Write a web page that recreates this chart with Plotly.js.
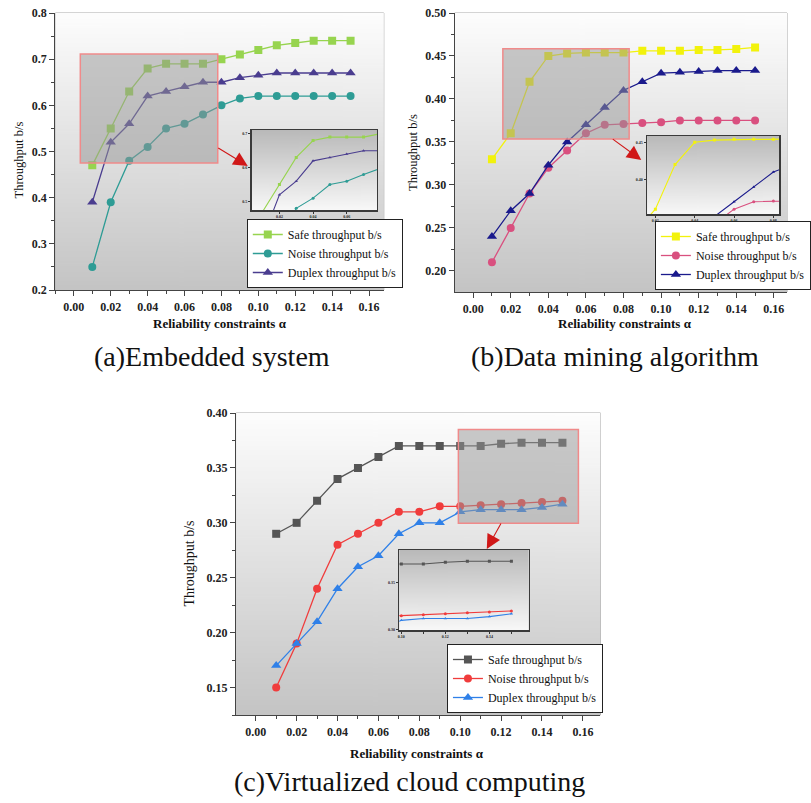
<!DOCTYPE html>
<html><head><meta charset="utf-8">
<script src="https://cdn.plot.ly/plotly-3.0.1.min.js"></script>
<style>html,body{margin:0;padding:0;background:#fff;}#chart{width:811px;height:803px;}</style>
</head><body><div id="chart"></div>
<script>
// ---------------- data ----------------
const alpha = [0.01,0.02,0.03,0.04,0.05,0.06,0.07,0.08,0.09,0.10,0.11,0.12,0.13,0.14,0.15];
const seriesNames = ['Safe throughput b/s','Noise throughput b/s','Duplex throughput b/s'];

// (a) Embedded system
const safeA   = [0.47,0.55,0.63,0.68,0.69,0.69,0.69,0.70,0.71,0.72,0.73,0.735,0.74,0.74,0.74];
const noiseA  = [0.25,0.39,0.48,0.51,0.55,0.56,0.58,0.60,0.615,0.62,0.62,0.62,0.62,0.62,0.62];
const duplexA = [0.39,0.52,0.56,0.62,0.63,0.64,0.65,0.65,0.66,0.665,0.67,0.67,0.67,0.67,0.67];

// (b) Data mining algorithm
const safeB   = [0.33,0.36,0.42,0.45,0.453,0.454,0.454,0.454,0.456,0.456,0.456,0.457,0.457,0.458,0.460];
const noiseB  = [0.21,0.25,0.29,0.32,0.34,0.36,0.37,0.371,0.372,0.373,0.375,0.375,0.375,0.375,0.375];
const duplexB = [0.24,0.27,0.29,0.323,0.35,0.37,0.39,0.41,0.42,0.43,0.431,0.432,0.433,0.433,0.433];

// (c) Virtualized cloud computing
const safeC   = [0.29,0.30,0.32,0.34,0.35,0.36,0.37,0.37,0.37,0.37,0.37,0.372,0.373,0.373,0.373];
const noiseC  = [0.15,0.19,0.24,0.28,0.29,0.30,0.31,0.31,0.315,0.315,0.316,0.317,0.318,0.319,0.320];
const duplexC = [0.17,0.19,0.21,0.24,0.26,0.27,0.29,0.30,0.30,0.31,0.312,0.312,0.312,0.314,0.317];

const xTickVals = [0,0.02,0.04,0.06,0.08,0.10,0.12,0.14,0.16];
const xTickText = ['0.00','0.02','0.04','0.06','0.08','0.10','0.12','0.14','0.16'];
const captions = ['(a)Embedded system','(b)Data mining algorithm','(c)Virtualized cloud computing'];
const xTitle = 'Reliability constraints α';
const yTitle = 'Throughput b/s';

// ---------------- styling / layout ----------------
const W = 811, H = 803;
const px = p => p / W, py = p => 1 - p / H;
const SERIF = 'Liberation Serif, "Times New Roman", serif';

const colorsA = ['#97d44f','#2e9c95','#4a3d8f'];
const colorsB = ['#f2f20c','#d9507f','#1a1a8c'];
const colorsC = ['#555555','#f03c3c','#2f80e8'];
const symbols = ['square','circle','triangle-up'];
const msize = [8,8,9];

// zoom windows (shared between the highlight box and inset axes)
const zoomA = {x:[0.0035,0.078], y:[0.475,0.711]};
const zoomB = {x:[0.0158,0.083], y:[0.3535,0.4585]};
const zoomC = {x:[0.0991,0.1578], y:[0.2997,0.385]};

function gradient(top, bottom){
  const c = document.createElement('canvas'); c.width = 4; c.height = 256;
  const g = c.getContext('2d');
  const gr = g.createLinearGradient(0,0,0,256);
  gr.addColorStop(0, top); gr.addColorStop(1, bottom);
  g.fillStyle = gr; g.fillRect(0,0,4,256);
  return c.toDataURL();
}
const mainBg = gradient('#fdfdfd','#c4c4c4');
const insetBg = gradient('#b9b9b9','#f8f8f8');

const panels = [
  {data:[safeA,noiseA,duplexA], colors:colorsA, zoom:zoomA, main:1, inset:4, legend:'legend'},
  {data:[safeB,noiseB,duplexB], colors:colorsB, zoom:zoomB, main:2, inset:5, legend:'legend2'},
  {data:[safeC,noiseC,duplexC], colors:colorsC, zoom:zoomC, main:3, inset:6, legend:'legend3'}
];
const axName = (l,n) => l + (n===1 ? '' : n);

const traces = [];
panels.forEach(p => {
  p.data.forEach((ys,i) => {
    traces.push({
      type:'scatter', mode:'lines+markers', x:alpha, y:ys, name:seriesNames[i],
      xaxis:axName('x',p.main), yaxis:axName('y',p.main), legend:p.legend,
      line:{color:p.colors[i], width:1.3},
      marker:{symbol:symbols[i], size:msize[i], color:p.colors[i]}
    });
  });
  p.data.forEach((ys,i) => {
    traces.push({
      type:'scatter', mode:'lines+markers', x:alpha, y:ys, name:seriesNames[i], showlegend:false,
      xaxis:axName('x',p.inset), yaxis:axName('y',p.inset),
      line:{color:p.colors[i], width:1.1},
      marker:{symbol:symbols[i], size:3, color:p.colors[i]}
    });
  });
});

const tickFont = {family:SERIF, size:12, color:'#222', weight:'bold'};
function mainX(dom, range, anchor){
  return {domain:dom, range:range, anchor:anchor, tickmode:'array', tickvals:xTickVals, ticktext:xTickText,
    showgrid:false, zeroline:false, showline:true, linecolor:'#444', linewidth:1.2,
    ticks:'outside', ticklen:5, tickcolor:'#444', tickfont:tickFont,
    minor:{ticks:'outside', ticklen:3, dtick:0.01, tick0:0, tickcolor:'#444', showgrid:false}};
}
function mainY(dom, range, anchor, dtick, fmt, minor){
  return {domain:dom, range:range, anchor:anchor, dtick:dtick, tick0:0, tickformat:fmt,
    showgrid:false, zeroline:false, showline:true, linecolor:'#444', linewidth:1.2,
    ticks:'outside', ticklen:5, tickcolor:'#444', tickfont:tickFont,
    minor:{ticks:'outside', ticklen:3, dtick:minor, tick0:0, tickcolor:'#444', showgrid:false}};
}
const insetFont = {family:SERIF, size:4, color:'#222', weight:'bold'};
function insetAx(dom, range, anchor, dtick, fmt, minor){
  const a = {domain:dom, range:range, anchor:anchor, dtick:dtick, tick0:0, tickformat:fmt,
    showgrid:false, zeroline:false, showline:true, mirror:true, linecolor:'#3a3a3a', linewidth:1.5,
    ticks:'outside', ticklen:2, tickcolor:'#333', tickfont:insetFont};
  if(minor) a.minor = {ticks:'outside', ticklen:2, dtick:minor, tick0:0, tickcolor:'#333', showgrid:false};
  return a;
}

const layout = {
  width:W, height:H, margin:{l:0,r:0,t:0,b:0},
  paper_bgcolor:'#ffffff', plot_bgcolor:'rgba(0,0,0,0)',
  font:{family:SERIF, color:'#111'},
  xaxis:  mainX([px(57),px(395)], [-0.01,0.168], 'y'),
  yaxis:  mainY([py(290),py(13)], [0.2,0.8], 'x', 0.1, '.1f', 0.05),
  xaxis2: mainX([px(468),px(810)], [-0.0098,0.167], 'y2'),
  yaxis2: mainY([py(292),py(13)], [0.1755,0.5], 'x2', 0.05, '.2f', 0.025),
  xaxis3: mainX([px(243),px(618)], [-0.0096,0.1686], 'y3'),
  yaxis3: mainY([py(715),py(413)], [0.125,0.40], 'x3', 0.05, '.2f', 0.025),
  xaxis4: insetAx([px(259),px(388)], zoomA.x, 'y4', 0.02, '.2f'),
  yaxis4: insetAx([py(210),py(130)], zoomA.y, 'x4', 0.1, '.1f'),
  xaxis5: insetAx([px(666),px(802)], zoomB.x, 'y5', 0.02, '.2f'),
  yaxis5: insetAx([py(214),py(136)], zoomB.y, 'x5', 0.05, '.2f'),
  xaxis6: insetAx([px(411),px(544)], zoomC.x, 'y6', 0.02, '.2f', 0.01),
  yaxis6: insetAx([py(630),py(550)], zoomC.y, 'x6', 0.05, '.2f'),
  images: [],
  shapes: [],
  annotations: [],
  showlegend:true
};

panels.forEach(p => {
  const mx = axName('x',p.main), my = axName('y',p.main);
  layout.images.push({source:mainBg, xref:mx+' domain', yref:my+' domain', x:0, y:1, sizex:1, sizey:1,
    sizing:'stretch', xanchor:'left', yanchor:'top', layer:'below'});
  layout.shapes.push({type:'rect', xref:mx+' domain', yref:my+' domain', x0:0, x1:1, y0:0, y1:1,
    line:{color:'#a8a8a8', width:1}, layer:'below'});
  layout.shapes.push({type:'rect', xref:mx, yref:my, x0:p.zoom.x[0], x1:p.zoom.x[1], y0:p.zoom.y[0], y1:p.zoom.y[1],
    fillcolor:'rgba(150,150,150,0.5)', line:{color:'#f08a8a', width:1.5}, layer:'above'});
});
panels.forEach(p => {
  const ix = axName('x',p.inset), iy = axName('y',p.inset);
  layout.images.push({source:insetBg, xref:ix+' domain', yref:iy+' domain', x:0, y:1, sizex:1, sizey:1,
    sizing:'stretch', xanchor:'left', yanchor:'top', layer:'below'});
});

// legends
const legFont = {family:SERIF, size:12, color:'#111'};
function leg(x, yb){ return {x:px(x), y:py(yb), xanchor:'left', yanchor:'bottom', bgcolor:'#ffffff',
  bordercolor:'#222', borderwidth:1, font:legFont, itemwidth:30, tracegroupgap:0}; }
layout.legend  = leg(254, 288);
layout.legend2 = leg(674, 290);
layout.legend3 = leg(460, 713);

// arrows
function arrow(tipX, tipY, tailX, tailY){
  return {x:px(tipX), y:py(tipY), xref:'paper', yref:'paper', text:'', showarrow:true,
    ax:tailX-tipX, ay:tailY-tipY, arrowcolor:'#d01818', arrowhead:2, arrowsize:2.6, arrowwidth:1.1, standoff:0};
}
layout.annotations.push(arrow(255,166,224,147), arrow(660,160,630,138), arrow(501,549,516,522));

// axis titles and captions
function txt(t, x, y, size, bold, angle){
  return {text:t, x:px(x), y:py(y), xref:'paper', yref:'paper', showarrow:false, textangle:angle||0,
    xanchor:'center', yanchor:'middle', font:{family:SERIF, size:size, color:'#111', weight:bold?'bold':'normal'}};
}
layout.annotations.push(
  txt(xTitle, 226, 323, 13, true), txt(xTitle, 643, 323, 13, true), txt(xTitle, 429, 753, 13, true),
  txt(yTitle, 20, 160, 12.5, false, -90), txt(yTitle, 425, 152, 12.5, false, -90), txt(yTitle, 195, 563, 14, false, -90),
  txt(captions[0], 218, 356, 28, false), txt(captions[1], 633, 356, 28, false), txt(captions[2], 421, 781, 28, false)
);

Plotly.newPlot('chart', traces, layout, {displayModeBar:false, staticPlot:true});
</script></body></html>
